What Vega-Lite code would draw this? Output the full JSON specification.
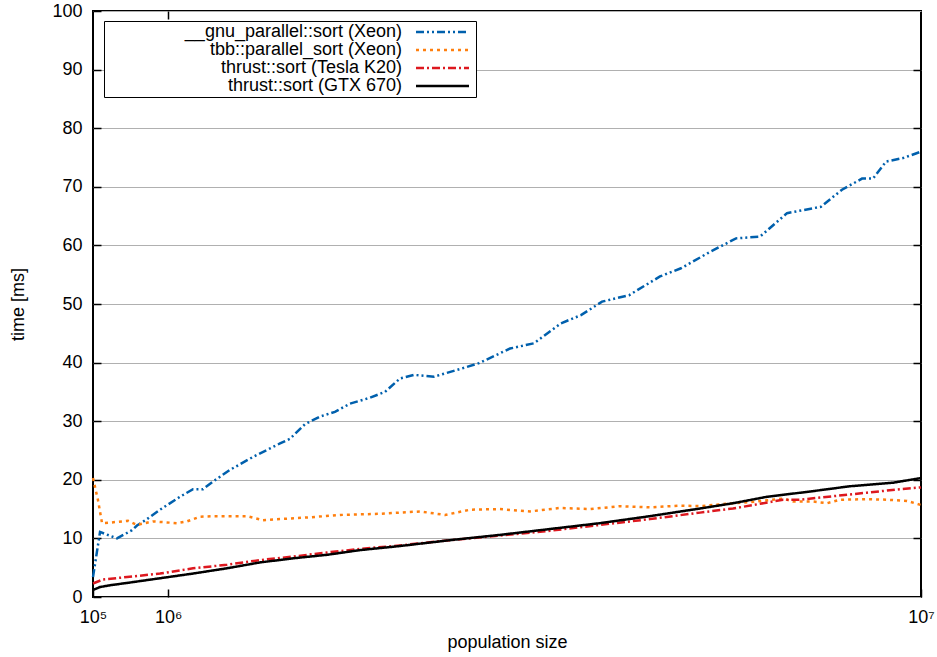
{
  "$schema": "https://vega.github.io/schema/vega-lite/v6.json",
  "width": 828,
  "height": 586,
  "autosize": {"type": "none"},
  "padding": {"left": 93, "top": 11, "right": 16, "bottom": 60},
  "background": "white",
  "config": {
    "font": "Liberation Sans",
    "view": {"stroke": "black", "strokeWidth": 2},
    "axis": {
      "labelFont": "Liberation Sans", "titleFont": "Liberation Sans",
      "labelFontSize": 18, "titleFontSize": 18, "titleFontWeight": "normal",
      "labelColor": "black", "titleColor": "black",
      "tickColor": "black", "tickWidth": 1.5, "domain": false
    },
    "legend": {
      "orient": "none", "legendX": 11, "legendY": 10, "padding": 2,
      "strokeColor": "black", "fillColor": "white",
      "labelFont": "Liberation Sans", "labelFontSize": 18, "labelColor": "black",
      "labelAlign": "right", "labelOffset": -49.5, "symbolOffset": 327.5,
      "symbolType": "M-5.3,0H5.3", "symbolSize": 100, "symbolStrokeWidth": 2.5,
      "rowPadding": 0, "labelLimit": 400
    }
  },
  "datasets": {
    "d": [
      {"n": 100000, "t": 3.4, "s": "__gnu_parallel::sort (Xeon)"},
      {"n": 184000, "t": 11.1, "s": "__gnu_parallel::sort (Xeon)"},
      {"n": 387000, "t": 10.0, "s": "__gnu_parallel::sort (Xeon)"},
      {"n": 566000, "t": 11.4, "s": "__gnu_parallel::sort (Xeon)"},
      {"n": 626000, "t": 12.2, "s": "__gnu_parallel::sort (Xeon)"},
      {"n": 746000, "t": 13.3, "s": "__gnu_parallel::sort (Xeon)"},
      {"n": 901000, "t": 14.9, "s": "__gnu_parallel::sort (Xeon)"},
      {"n": 1140000, "t": 17.1, "s": "__gnu_parallel::sort (Xeon)"},
      {"n": 1296000, "t": 18.4, "s": "__gnu_parallel::sort (Xeon)"},
      {"n": 1415000, "t": 18.4, "s": "__gnu_parallel::sort (Xeon)"},
      {"n": 1535000, "t": 19.7, "s": "__gnu_parallel::sort (Xeon)"},
      {"n": 1738000, "t": 21.7, "s": "__gnu_parallel::sort (Xeon)"},
      {"n": 2013000, "t": 23.9, "s": "__gnu_parallel::sort (Xeon)"},
      {"n": 2180000, "t": 25.1, "s": "__gnu_parallel::sort (Xeon)"},
      {"n": 2336000, "t": 26.2, "s": "__gnu_parallel::sort (Xeon)"},
      {"n": 2455000, "t": 27.0, "s": "__gnu_parallel::sort (Xeon)"},
      {"n": 2635000, "t": 29.5, "s": "__gnu_parallel::sort (Xeon)"},
      {"n": 2814000, "t": 30.8, "s": "__gnu_parallel::sort (Xeon)"},
      {"n": 2993000, "t": 31.6, "s": "__gnu_parallel::sort (Xeon)"},
      {"n": 3173000, "t": 33.0, "s": "__gnu_parallel::sort (Xeon)"},
      {"n": 3412000, "t": 34.0, "s": "__gnu_parallel::sort (Xeon)"},
      {"n": 3591000, "t": 35.0, "s": "__gnu_parallel::sort (Xeon)"},
      {"n": 3771000, "t": 37.3, "s": "__gnu_parallel::sort (Xeon)"},
      {"n": 3938000, "t": 37.9, "s": "__gnu_parallel::sort (Xeon)"},
      {"n": 4177000, "t": 37.6, "s": "__gnu_parallel::sort (Xeon)"},
      {"n": 4512000, "t": 39.0, "s": "__gnu_parallel::sort (Xeon)"},
      {"n": 4715000, "t": 39.9, "s": "__gnu_parallel::sort (Xeon)"},
      {"n": 5086000, "t": 42.4, "s": "__gnu_parallel::sort (Xeon)"},
      {"n": 5373000, "t": 43.3, "s": "__gnu_parallel::sort (Xeon)"},
      {"n": 5695000, "t": 46.7, "s": "__gnu_parallel::sort (Xeon)"},
      {"n": 5935000, "t": 48.1, "s": "__gnu_parallel::sort (Xeon)"},
      {"n": 6186000, "t": 50.4, "s": "__gnu_parallel::sort (Xeon)"},
      {"n": 6509000, "t": 51.5, "s": "__gnu_parallel::sort (Xeon)"},
      {"n": 6879000, "t": 54.7, "s": "__gnu_parallel::sort (Xeon)"},
      {"n": 7130000, "t": 56.1, "s": "__gnu_parallel::sort (Xeon)"},
      {"n": 7453000, "t": 58.7, "s": "__gnu_parallel::sort (Xeon)"},
      {"n": 7788000, "t": 61.2, "s": "__gnu_parallel::sort (Xeon)"},
      {"n": 8075000, "t": 61.5, "s": "__gnu_parallel::sort (Xeon)"},
      {"n": 8398000, "t": 65.5, "s": "__gnu_parallel::sort (Xeon)"},
      {"n": 8804000, "t": 66.6, "s": "__gnu_parallel::sort (Xeon)"},
      {"n": 9055000, "t": 69.5, "s": "__gnu_parallel::sort (Xeon)"},
      {"n": 9295000, "t": 71.4, "s": "__gnu_parallel::sort (Xeon)"},
      {"n": 9426000, "t": 71.4, "s": "__gnu_parallel::sort (Xeon)"},
      {"n": 9582000, "t": 74.3, "s": "__gnu_parallel::sort (Xeon)"},
      {"n": 9785000, "t": 74.9, "s": "__gnu_parallel::sort (Xeon)"},
      {"n": 10000000, "t": 76.0, "s": "__gnu_parallel::sort (Xeon)"},

      {"n": 100000, "t": 20.3, "s": "tbb::parallel_sort (Xeon)"},
      {"n": 160000, "t": 16.5, "s": "tbb::parallel_sort (Xeon)"},
      {"n": 208000, "t": 12.6, "s": "tbb::parallel_sort (Xeon)"},
      {"n": 303000, "t": 12.7, "s": "tbb::parallel_sort (Xeon)"},
      {"n": 518000, "t": 13.0, "s": "tbb::parallel_sort (Xeon)"},
      {"n": 626000, "t": 12.3, "s": "tbb::parallel_sort (Xeon)"},
      {"n": 817000, "t": 12.9, "s": "tbb::parallel_sort (Xeon)"},
      {"n": 1104000, "t": 12.6, "s": "tbb::parallel_sort (Xeon)"},
      {"n": 1224000, "t": 12.9, "s": "tbb::parallel_sort (Xeon)"},
      {"n": 1379000, "t": 13.7, "s": "tbb::parallel_sort (Xeon)"},
      {"n": 1535000, "t": 13.8, "s": "tbb::parallel_sort (Xeon)"},
      {"n": 1941000, "t": 13.8, "s": "tbb::parallel_sort (Xeon)"},
      {"n": 2133000, "t": 13.1, "s": "tbb::parallel_sort (Xeon)"},
      {"n": 2336000, "t": 13.3, "s": "tbb::parallel_sort (Xeon)"},
      {"n": 2695000, "t": 13.6, "s": "tbb::parallel_sort (Xeon)"},
      {"n": 3053000, "t": 14.0, "s": "tbb::parallel_sort (Xeon)"},
      {"n": 3532000, "t": 14.2, "s": "tbb::parallel_sort (Xeon)"},
      {"n": 4010000, "t": 14.6, "s": "tbb::parallel_sort (Xeon)"},
      {"n": 4309000, "t": 14.0, "s": "tbb::parallel_sort (Xeon)"},
      {"n": 4608000, "t": 14.9, "s": "tbb::parallel_sort (Xeon)"},
      {"n": 4966000, "t": 15.0, "s": "tbb::parallel_sort (Xeon)"},
      {"n": 5325000, "t": 14.6, "s": "tbb::parallel_sort (Xeon)"},
      {"n": 5683000, "t": 15.2, "s": "tbb::parallel_sort (Xeon)"},
      {"n": 6042000, "t": 15.0, "s": "tbb::parallel_sort (Xeon)"},
      {"n": 6401000, "t": 15.5, "s": "tbb::parallel_sort (Xeon)"},
      {"n": 6760000, "t": 15.3, "s": "tbb::parallel_sort (Xeon)"},
      {"n": 7118000, "t": 15.6, "s": "tbb::parallel_sort (Xeon)"},
      {"n": 7358000, "t": 15.5, "s": "tbb::parallel_sort (Xeon)"},
      {"n": 7752000, "t": 16.0, "s": "tbb::parallel_sort (Xeon)"},
      {"n": 8039000, "t": 16.3, "s": "tbb::parallel_sort (Xeon)"},
      {"n": 8350000, "t": 16.8, "s": "tbb::parallel_sort (Xeon)"},
      {"n": 8470000, "t": 16.3, "s": "tbb::parallel_sort (Xeon)"},
      {"n": 8709000, "t": 16.3, "s": "tbb::parallel_sort (Xeon)"},
      {"n": 8876000, "t": 16.0, "s": "tbb::parallel_sort (Xeon)"},
      {"n": 9032000, "t": 16.6, "s": "tbb::parallel_sort (Xeon)"},
      {"n": 9354000, "t": 16.7, "s": "tbb::parallel_sort (Xeon)"},
      {"n": 9593000, "t": 16.6, "s": "tbb::parallel_sort (Xeon)"},
      {"n": 9833000, "t": 16.4, "s": "tbb::parallel_sort (Xeon)"},
      {"n": 10000000, "t": 15.7, "s": "tbb::parallel_sort (Xeon)"},

      {"n": 100000, "t": 2.3, "s": "thrust::sort (Tesla K20)"},
      {"n": 220000, "t": 3.0, "s": "thrust::sort (Tesla K20)"},
      {"n": 507000, "t": 3.4, "s": "thrust::sort (Tesla K20)"},
      {"n": 901000, "t": 4.0, "s": "thrust::sort (Tesla K20)"},
      {"n": 1296000, "t": 4.9, "s": "thrust::sort (Tesla K20)"},
      {"n": 1702000, "t": 5.5, "s": "thrust::sort (Tesla K20)"},
      {"n": 2097000, "t": 6.3, "s": "thrust::sort (Tesla K20)"},
      {"n": 2491000, "t": 6.9, "s": "thrust::sort (Tesla K20)"},
      {"n": 2898000, "t": 7.6, "s": "thrust::sort (Tesla K20)"},
      {"n": 3292000, "t": 8.2, "s": "thrust::sort (Tesla K20)"},
      {"n": 3771000, "t": 8.8, "s": "thrust::sort (Tesla K20)"},
      {"n": 4369000, "t": 9.7, "s": "thrust::sort (Tesla K20)"},
      {"n": 4966000, "t": 10.5, "s": "thrust::sort (Tesla K20)"},
      {"n": 5563000, "t": 11.3, "s": "thrust::sort (Tesla K20)"},
      {"n": 6162000, "t": 12.3, "s": "thrust::sort (Tesla K20)"},
      {"n": 6760000, "t": 13.3, "s": "thrust::sort (Tesla K20)"},
      {"n": 7358000, "t": 14.4, "s": "thrust::sort (Tesla K20)"},
      {"n": 7752000, "t": 15.1, "s": "thrust::sort (Tesla K20)"},
      {"n": 8075000, "t": 15.9, "s": "thrust::sort (Tesla K20)"},
      {"n": 8350000, "t": 16.6, "s": "thrust::sort (Tesla K20)"},
      {"n": 8553000, "t": 16.6, "s": "thrust::sort (Tesla K20)"},
      {"n": 8948000, "t": 17.2, "s": "thrust::sort (Tesla K20)"},
      {"n": 9354000, "t": 17.8, "s": "thrust::sort (Tesla K20)"},
      {"n": 9749000, "t": 18.4, "s": "thrust::sort (Tesla K20)"},
      {"n": 10000000, "t": 18.7, "s": "thrust::sort (Tesla K20)"},

      {"n": 100000, "t": 1.2, "s": "thrust::sort (GTX 670)"},
      {"n": 184000, "t": 1.7, "s": "thrust::sort (GTX 670)"},
      {"n": 303000, "t": 2.0, "s": "thrust::sort (GTX 670)"},
      {"n": 507000, "t": 2.4, "s": "thrust::sort (GTX 670)"},
      {"n": 901000, "t": 3.2, "s": "thrust::sort (GTX 670)"},
      {"n": 1296000, "t": 4.0, "s": "thrust::sort (GTX 670)"},
      {"n": 1702000, "t": 4.9, "s": "thrust::sort (GTX 670)"},
      {"n": 2097000, "t": 5.9, "s": "thrust::sort (GTX 670)"},
      {"n": 2491000, "t": 6.6, "s": "thrust::sort (GTX 670)"},
      {"n": 2898000, "t": 7.2, "s": "thrust::sort (GTX 670)"},
      {"n": 3292000, "t": 8.0, "s": "thrust::sort (GTX 670)"},
      {"n": 3771000, "t": 8.7, "s": "thrust::sort (GTX 670)"},
      {"n": 4369000, "t": 9.7, "s": "thrust::sort (GTX 670)"},
      {"n": 4966000, "t": 10.6, "s": "thrust::sort (GTX 670)"},
      {"n": 5563000, "t": 11.6, "s": "thrust::sort (GTX 670)"},
      {"n": 6162000, "t": 12.6, "s": "thrust::sort (GTX 670)"},
      {"n": 6760000, "t": 13.8, "s": "thrust::sort (GTX 670)"},
      {"n": 7358000, "t": 15.1, "s": "thrust::sort (GTX 670)"},
      {"n": 7752000, "t": 16.0, "s": "thrust::sort (GTX 670)"},
      {"n": 8159000, "t": 17.1, "s": "thrust::sort (GTX 670)"},
      {"n": 8673000, "t": 18.0, "s": "thrust::sort (GTX 670)"},
      {"n": 9151000, "t": 18.9, "s": "thrust::sort (GTX 670)"},
      {"n": 9665000, "t": 19.5, "s": "thrust::sort (GTX 670)"},
      {"n": 10000000, "t": 20.3, "s": "thrust::sort (GTX 670)"}
    ]
  },
  "data": {"name": "d"},
  "layer": [
    {
      "mark": {"type": "line", "strokeWidth": 2.5, "strokeCap": "butt"},
      "encoding": {
        "x": {
          "field": "n", "type": "quantitative",
          "scale": {"domain": [100000, 10000000], "nice": false, "zero": false},
          "axis": {
            "values": [100000, 1000000, 10000000],
            "labelExpr": "datum.value == 100000 ? '10⁵' : datum.value == 1000000 ? '10⁶' : '10⁷'",
            "tickSize": -8, "labelPadding": 19, "grid": false, "labelFlush": false,
            "title": "population size", "titlePadding": 7
          }
        },
        "y": {
          "field": "t", "type": "quantitative",
          "scale": {"domain": [0, 100], "nice": false},
          "axis": {
            "values": [0, 10, 20, 30, 40, 50, 60, 70, 80, 90, 100],
            "tickSize": -8, "labelPadding": 19, "grid": true,
            "gridColor": "#b0b0b0", "gridWidth": 1,
            "title": "time [ms]", "titlePadding": 24
          }
        },
        "color": {
          "field": "s", "type": "nominal",
          "scale": {
            "domain": ["__gnu_parallel::sort (Xeon)", "tbb::parallel_sort (Xeon)", "thrust::sort (Tesla K20)", "thrust::sort (GTX 670)"],
            "range": ["#0060ad", "#ff7f0e", "#dd181f", "#000000"]
          },
          "legend": {"title": null}
        },
        "strokeDash": {
          "field": "s", "type": "nominal",
          "scale": {
            "domain": ["__gnu_parallel::sort (Xeon)", "tbb::parallel_sort (Xeon)", "thrust::sort (Tesla K20)", "thrust::sort (GTX 670)"],
            "range": [[8, 3, 2, 3, 2, 3], [3, 4], [8, 3, 2, 3], [1, 0]]
          },
          "legend": {"title": null}
        }
      }
    },
    {
      "mark": {"type": "line", "strokeOpacity": 0},
      "encoding": {
        "x": {
          "field": "n", "type": "quantitative",
          "scale": {"domain": [100000, 10000000], "nice": false, "zero": false},
          "axis": {"orient": "top", "values": [1000000], "labels": false, "tickSize": -8, "grid": false, "title": null}
        },
        "y": {
          "field": "t", "type": "quantitative",
          "scale": {"domain": [0, 100], "nice": false},
          "axis": {"orient": "right", "values": [10, 20, 30, 40, 50, 60, 70, 80, 90], "labels": false, "tickSize": -8, "grid": false, "title": null}
        },
        "detail": {"field": "s", "type": "nominal"}
      }
    }
  ],
  "resolve": {"axis": {"x": "independent", "y": "independent"}}
}
